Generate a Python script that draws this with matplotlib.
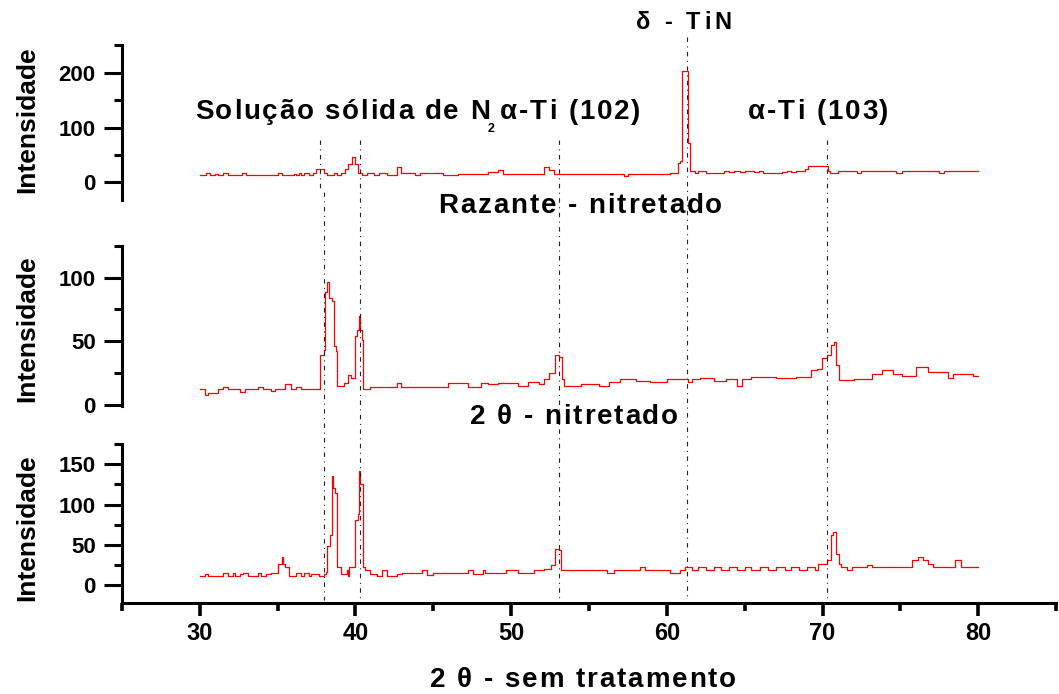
import matplotlib
matplotlib.use('Agg')
import matplotlib.pyplot as plt
from matplotlib.ticker import MultipleLocator
from matplotlib.lines import Line2D
from matplotlib.transforms import blended_transform_factory
from matplotlib.font_manager import FontProperties, findfont
from matplotlib.ft2font import FT2Font

W, H, DPI = 1059, 694, 100
FONT = 'Liberation Sans'

# ---- data (2 theta, intensity), step levels ----
top_x = [30.0, 30.4, 30.66, 31.0, 31.15, 31.47, 31.8, 32.68, 32.94, 35.05, 35.27, 36.02,
         36.18, 36.34, 36.5, 36.67, 36.99, 37.3, 37.48, 37.97, 38.2, 38.62, 38.78, 39.1,
         39.33, 39.5, 39.75, 40.0, 40.14, 40.4, 40.73, 41.2, 41.54, 42.0, 42.67, 42.93,
         43.8, 44.13, 45.6, 46.57, 48.5, 49.17, 49.5, 52.1, 52.41, 52.74, 57.28, 57.5,
         60.2, 60.7, 60.85, 60.98, 61.35, 61.5, 61.8, 62.0, 62.5, 63.7, 64.0, 64.3, 64.7,
         65.0, 65.6, 65.9, 66.2, 67.4, 67.7, 68.0, 68.3, 68.9, 69.05, 70.35, 70.5, 71.0,
         72.2, 72.5, 74.7, 75.1, 77.5, 77.8, 80.0]
top_y = [13, 17, 13, 16, 13, 17, 13, 17, 13, 17, 13, 16,
         13, 17, 13, 17, 13, 17, 24, 18, 13, 17, 13, 18,
         25, 33, 47, 33, 18, 14, 17, 14, 17, 14, 28, 17,
         13, 17, 13, 16, 19, 23, 16, 28, 23, 16, 11.5, 16,
         17, 35, 40, 204, 71, 21, 17.5, 21, 17.5, 21, 19, 21, 19,
         21, 19, 21, 17.5, 19, 21, 19, 21, 25, 29.5, 21, 17.5, 21,
         17.5, 21, 17.5, 21, 17.5, 21, 21]

mid_x = [30.0, 30.3, 30.5, 31.15, 31.47, 31.8, 32.6, 32.9, 33.75, 34.07, 34.6, 34.8,
         35.5, 35.86, 36.2, 36.5, 36.83, 37.75, 37.95, 38.03, 38.2, 38.3, 38.5, 38.6,
         38.74, 38.8, 39.25, 39.5, 39.7, 39.96, 40.1, 40.2, 40.3, 40.4, 40.5, 40.9,
         42.67, 42.9, 45.92, 47.2, 48.03, 48.5, 49.17, 50.47, 51.1, 51.76, 52.1, 52.41,
         52.8, 53.06, 53.26, 53.39, 54.5, 55.66, 56.3, 56.96, 58.0, 58.9, 60.0, 61.34,
         61.6, 62.15, 63.0, 63.77, 64.5, 64.8, 65.4, 67.02, 68.3, 69.29, 69.62, 69.94,
         70.26, 70.52, 70.75, 70.85, 71.05, 72.0, 73.19, 73.84, 74.5, 75.13, 76.0, 76.8,
         78.05, 78.38, 79.68, 80.0]
mid_y = [12, 8, 9.5, 12, 14, 12, 10, 12, 14, 12, 10.5, 12,
         16.5, 12, 14, 12.5, 12, 39, 43, 89, 97, 84, 82, 46,
         42, 14.4, 17, 23.6, 21, 54, 59, 70, 59, 51, 12, 14,
         17, 14, 17, 14, 17, 16, 17, 15, 18, 16, 20, 24.6,
         39.5, 37.6, 20, 15, 16, 15, 18, 20, 19, 18, 20, 18,
         20, 21, 19, 20, 15, 20, 22, 21, 22, 27, 28, 37,
         39, 47, 49.6, 31, 19.5, 20, 24, 27, 24, 22.6, 29.4, 26,
         21, 24, 22.6, 22.6]

bot_x = [30.0, 30.34, 30.5, 31.47, 31.8, 32.12, 32.29, 32.6, 32.77, 33.1, 33.75, 33.91,
         34.23, 34.56, 35.05, 35.27, 35.35, 35.47, 35.7, 36.18, 36.5, 36.67, 36.99, 37.16,
         37.64, 37.97, 38.1, 38.2, 38.39, 38.49, 38.55, 38.71, 38.78, 39.04, 39.43, 39.5,
         39.6, 40.0, 40.14, 40.24, 40.3, 40.47, 40.5, 40.6, 40.9, 41.4, 41.7, 42.0,
         42.67, 43.0, 44.3, 44.62, 44.95, 47.2, 47.54, 48.19, 48.35, 49.65, 50.47, 51.44,
         52.1, 52.57, 52.8, 53.06, 53.22, 53.55, 56.14, 56.63, 58.25, 58.58, 60.2, 60.85,
         61.18, 61.6, 62.0, 62.5, 63.0, 63.5, 64.0, 64.5, 65.0, 65.4, 66.0, 66.5,
         67.0, 67.6, 68.0, 68.5, 69.0, 69.5, 69.7, 70.26, 70.52, 70.65, 70.85, 71.08,
         71.2, 71.56, 71.89, 72.86, 73.19, 75.78, 76.11, 76.43, 76.76, 77.08, 78.54, 78.87,
         80.0]
bot_y = [11, 13.5, 11, 15, 11, 15, 11, 13.5, 15, 11, 15, 11,
         13.5, 15, 26.7, 35, 26.7, 22.6, 11, 15, 11, 15, 11, 14.4,
         11, 14.4, 16.5, 49, 62, 135, 121, 114, 22.6, 14.4, 18.5, 11,
         22.6, 81, 88.5, 142, 125.5, 119, 22.6, 19.3, 14.4, 11, 18.5, 11,
         14.4, 15.2, 18.5, 12.5, 15.2, 19.3, 14.4, 18.5, 15.2, 19, 15.2, 18.5,
         20.6, 24.7, 45.3, 43.2, 18.5, 19.3, 15.2, 19.3, 22.6, 19.3, 15.2, 19.3,
         22.6, 19.3, 22.6, 19.3, 22.6, 19.3, 22.6, 19.3, 22.6, 19.3, 22.6, 19.3,
         22.6, 19.3, 22.6, 19.3, 22.6, 19.3, 26.7, 30.9, 61.7, 65.8, 39, 26.7,
         22.6, 19.3, 22.6, 24.7, 22.6, 30.9, 35, 31, 26.7, 22.6, 30.9, 22.6,
         22.6]

# reference positions of the dash-dot marker lines (2 theta)
ref_top = [37.72, 40.3, 53.05, 61.3, 70.3]
ref_low = [38.0, 40.3, 53.05, 61.3, 70.3]

plt.rcParams['font.family'] = [FONT, 'DejaVu Sans']
plt.rcParams['font.weight'] = 'bold'

fig = plt.figure(figsize=(W / DPI, H / DPI), dpi=DPI)


def px_axes(top, bottom, left=122, right=1056):
    return fig.add_axes([left / W, 1 - bottom / H, (right - left) / W, (bottom - top) / H])


def spaced(x, y, s, size, track):
    # draw text char by char with extra letter spacing (x, y in px, y = baseline from top)
    prop = FontProperties(family=FONT, weight='bold', size=size)
    ft = FT2Font(findfont(prop), hinting_factor=1)
    ft.set_size(size, DPI)
    for c in s:
        fig.text(x / W, 1 - y / H, c, fontproperties=prop, ha='left', va='baseline')
        x += ft.load_char(ord(c)).linearHoriAdvance / 65536 + track


ax_top = px_axes(45.3, 200)
ax_mid = px_axes(246, 406)
ax_bot = px_axes(444, 603)

panels = [
    (ax_top, top_x, top_y, (-32, 250), 100, 50),
    (ax_mid, mid_x, mid_y, (-1, 125), 50, 25),
    (ax_bot, bot_x, bot_y, (-22, 175), 50, 25),
]
for ax, xs, ys, ylim, maj, mnr in panels:
    ax.plot(xs, ys, color='#ff0000', lw=0.9, drawstyle='steps-post')
    ax.set_xlim(25, 85)
    ax.set_ylim(*ylim)
    ax.yaxis.set_major_locator(MultipleLocator(maj))
    ax.yaxis.set_minor_locator(MultipleLocator(mnr))
    ax.patch.set_alpha(0)
    for side in ['top', 'right']:
        ax.spines[side].set_visible(False)
    ax.spines['left'].set_linewidth(2.2)
    ax.tick_params(axis='y', which='major', direction='out', length=13, width=2.2,
                   pad=6, labelsize=16)
    ax.tick_params(axis='y', which='minor', direction='out', length=6, width=2.2)

for ax in (ax_top, ax_mid):
    ax.spines['bottom'].set_visible(False)
    ax.set_xticks([])
    ax.tick_params(axis='x', which='both', bottom=False, labelbottom=False)

ax_bot.spines['bottom'].set_linewidth(2.2)
ax_bot.xaxis.set_major_locator(MultipleLocator(10))
ax_bot.xaxis.set_minor_locator(MultipleLocator(5))
ax_bot.tick_params(axis='x', which='major', direction='out', length=9, width=2.6,
                   pad=5, labelsize=17)
ax_bot.tick_params(axis='x', which='minor', direction='out', length=6, width=2.6)

# dash-dot reference lines running through the panels
tr = blended_transform_factory(ax_bot.transData, fig.transFigure)
dash = (0, (4, 4, 1, 4))
for i, xv in enumerate(ref_low):
    y_start = 37 if i == 3 else (192 if i == 0 else 140)
    fig.add_artist(Line2D([xv, xv], [1 - y_start / H, 1 - 600 / H], transform=tr,
                          color='#222222', lw=0.8, ls=dash))
fig.add_artist(Line2D([ref_top[0], ref_top[0]], [1 - 140 / H, 1 - 192 / H], transform=tr,
                      color='#222222', lw=0.8, ls=dash))

# y labels
for yc in (120, 329, 528):
    fig.text(27 / W, 1 - yc / H, 'Intensidade', rotation=90, ha='center', va='center',
             fontsize=19, fontweight='bold')

# annotations
spaced(636, 29, 'δ - TiN', 17, 3.5)
spaced(195, 119, 'Solução sólida de N', 20, 1.6)
spaced(488, 132, '2', 9, 0)
spaced(500, 119, 'α-Ti (102)', 20, 1.8)
spaced(748, 119, 'α-Ti (103)', 20, 1.8)
spaced(438, 213, 'Razante - nitretado', 20, 1.8)
spaced(470, 424, '2 θ - nitretado', 20, 1.8)
spaced(430, 687, '2 θ - sem tratamento', 20, 1.8)

fig.savefig('out.png', dpi=DPI)
